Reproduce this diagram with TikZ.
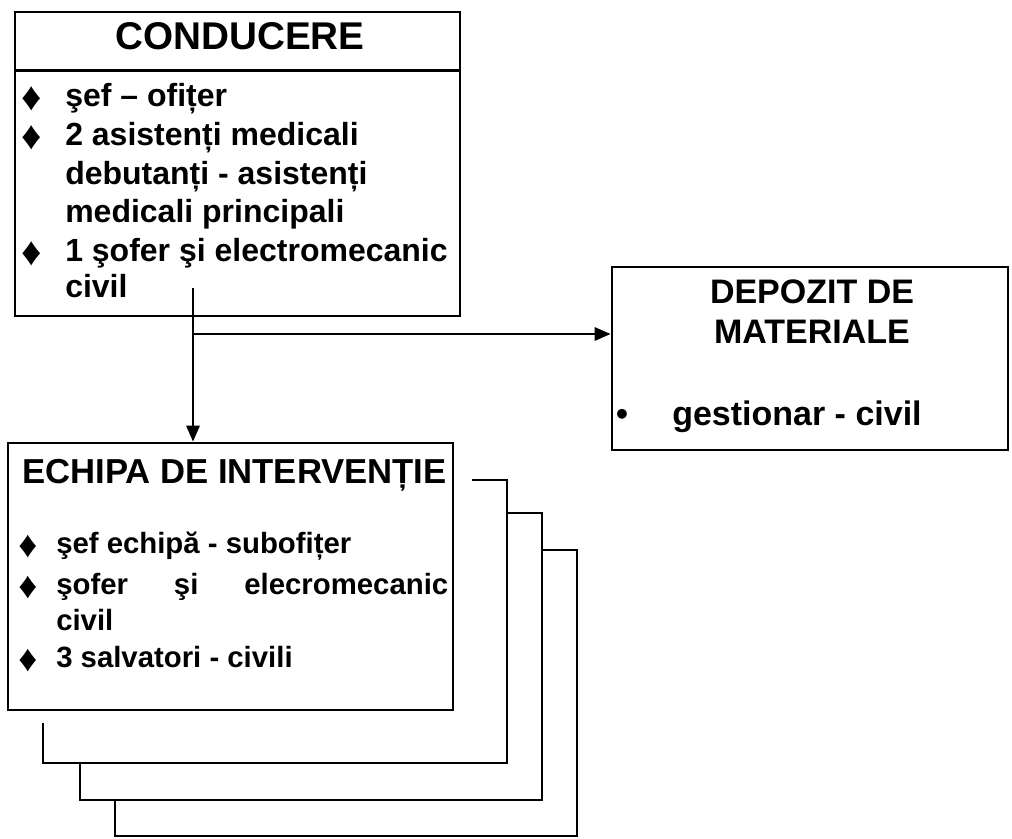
\documentclass[tikz,border=0pt]{standalone}
\usepackage{fontspec}
\setmainfont{Liberation Sans}
\usetikzlibrary{arrows.meta}

\begin{document}
\begin{tikzpicture}[x=0.75pt, y=-0.75pt,
		box/.style={draw, line width=2.1pt, inner sep=0pt},
		sheet/.style={line width=2.2pt},
		conn/.style={line width=1.7pt, -{Triangle[length=12pt, width=10pt]}},
		condhead/.style={anchor=base, inner sep=0pt, font=\fontsize{29}{34}\selectfont\bfseries},
		condtxt/.style={anchor=base west, inner sep=0pt, font=\fontsize{24}{28}\selectfont\bfseries},
		condbul/.style={anchor=base, inner sep=0pt, font=\fontsize{30}{34}\selectfont},
		teamhead/.style={anchor=base, inner sep=0pt, font=\fontsize{26}{30}\selectfont\bfseries},
		teamtxt/.style={anchor=base west, inner sep=0pt, font=\fontsize{22}{27}\selectfont\bfseries},
		teambul/.style={anchor=base, inner sep=0pt, font=\fontsize{28}{32}\selectfont},
		storetxt/.style={inner sep=0pt, font=\fontsize{25.5}{30}\selectfont\bfseries}
	]
	\useasboundingbox (0,0) rectangle (1012,838);

	% conducere
	\node[box, minimum width=333.75pt, minimum height=228pt] (cond) at (237.5,164) {};
	\draw[line width=2.1pt] ([yshift=-45pt]cond.north west) -- ([yshift=-45pt]cond.north east);
	\node[condhead] (condtitle) at (240,50) {CONDUCERE};
	\node[condbul] (cb1) at (32,111) {♦};
	\node[condtxt] (c1) at (65,107) {şef – ofițer};
	\node[condbul] (cb2) at (32,150) {♦};
	\node[condtxt] (c2) at (65,146) {2 asistenți medicali};
	\node[condtxt] (c3) at (65,184) {debutanți - asistenți};
	\node[condtxt] (c4) at (65,222) {medicali principali};
	\node[condbul] (cb3) at (32,265) {♦};
	\node[condtxt] (c5) at (65,261) {1 şofer şi electromecanic};
	\node[condtxt] (c6) at (65,297) {civil};

	% depozit
	\node[box, minimum width=297pt, minimum height=137.25pt] (dep) at (810,358.5) {};
	\node[storetxt, anchor=base] (deptitle1) at (812,303) {DEPOZIT DE};
	\node[storetxt, anchor=base] (deptitle2) at (812,343) {MATERIALE};
	\node[storetxt, anchor=base] (db1) at (622,425) {•};
	\node[storetxt, anchor=base west] (d1) at (672,425) {gestionar - civil};

	% echipa de interventie
	\node[box, minimum width=333.75pt, minimum height=200.25pt] (team) at (230.5,576.5) {};
	\node[teamhead] (teamtitle) at (234.5,483) {ECHIPA DE INTERVENȚIE};
	\node[teambul] (tb1) at (28,557) {♦};
	\node[teamtxt] (t1) at (56,553) {şef echipă - subofițer};
	\node[teambul] (tb2) at (28,598) {♦};
	\node[teamtxt] (t2) at (56,594) {\makebox[294pt][s]{şofer şi elecromecanic}};
	\node[teamtxt] (t3) at (56,630) {civil};
	\node[teambul] (tb3) at (28,671) {♦};
	\node[teamtxt] (t4) at (56,667) {3 salvatori - civili};

	% foile din spate
	\draw[sheet] (472,480) -| (507,763) -| (43,723);
	\draw[sheet] (507,513) -| (542,800) -| (80,763);
	\draw[sheet] (542,550) -| (577,836) -| (115,800);

	% legaturi
	\coordinate (tap) at (193,288);
	\coordinate (fork) at (193,334);
	\draw[conn] (tap) -- (tap |- team.north);
	\draw[conn] (fork) -- (fork -| dep.west);
\end{tikzpicture}
\end{document}
